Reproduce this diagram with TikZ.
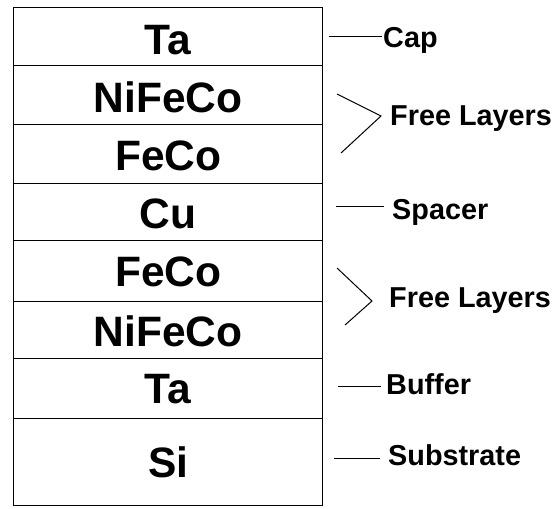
\documentclass[tikz,border=0pt]{standalone}
\usepackage{fontspec}
\setmainfont{Liberation Sans}
\begin{document}
\begin{tikzpicture}[x=1pt,y=-1pt,
  layer/.style={draw=black, line width=1.4pt, minimum width=309pt, inner sep=0pt, anchor=north west},
  lname/.style={inner sep=0pt, font=\fontsize{42.5}{48}\selectfont\bfseries},
  lbl/.style={inner sep=0pt, anchor=base west, font=\fontsize{28.8}{32}\selectfont\bfseries},
  lead/.style={line width=1pt}]
\useasboundingbox (0,0) rectangle (556,508);
% layers
\node[layer, minimum height=58pt] (ta1) at (13,7) {};
\node[layer, minimum height=59pt] (nfc1) at (13,65) {};
\node[layer, minimum height=59pt] (fc1) at (13,124) {};
\node[layer, minimum height=57pt] (cu) at (13,183) {};
\node[layer, minimum height=61pt] (fc2) at (13,240) {};
\node[layer, minimum height=57pt] (nfc2) at (13,301) {};
\node[layer, minimum height=60pt] (ta2) at (13,358) {};
\node[layer, minimum height=87pt] (si) at (13,418) {};
% layer names
\node[lname] (tTa1) at ([yshift=-3pt]ta1.center) {Ta};
\node[lname] (tNfc1) at ([yshift=-2pt]nfc1.center) {NiFeCo};
\node[lname] (tFc1) at ([yshift=-2pt]fc1.center) {FeCo};
\node[lname] (tCu) at ([yshift=-2pt]cu.center) {Cu};
\node[lname] (tFc2) at ([yshift=-1pt]fc2.center) {FeCo};
\node[lname] (tNfc2) at ([yshift=-1pt]nfc2.center) {NiFeCo};
\node[lname] (tTa2) at (ta2.center) {Ta};
\node[lname] (tSi) at (si.center) {Si};
% labels
\node[lbl] (cap) at (383,48) {Cap};
\node[lbl] (free1) at (390,125) {Free Layers};
\node[lbl] (spacer) at (392,219) {Spacer};
\node[lbl] (free2) at (389,307) {Free Layers};
\node[lbl] (buffer) at (386,394) {Buffer};
\node[lbl] (substrate) at (388,465) {Substrate};
% leaders
\coordinate (capS) at (329,37);
\coordinate (capE) at (382,37);
\draw[lead] (capS) -- (capE);
\coordinate (f1a) at (337,94);
\coordinate (f1m) at (381,116);
\coordinate (f1b) at (341,153);
\draw[lead] (f1a) -- (f1m) -- (f1b);
\coordinate (spS) at (336,206);
\coordinate (spE) at (384,206);
\draw[lead] (spS) -- (spE);
\coordinate (f2a) at (337,268);
\coordinate (f2m) at (372,301);
\coordinate (f2b) at (345,325);
\draw[lead] (f2a) -- (f2m) -- (f2b);
\coordinate (buS) at (338,386);
\coordinate (buE) at (381,386);
\draw[lead] (buS) -- (buE);
\coordinate (suS) at (334,458);
\coordinate (suE) at (380,458);
\draw[lead] (suS) -- (suE);
\end{tikzpicture}
\end{document}
